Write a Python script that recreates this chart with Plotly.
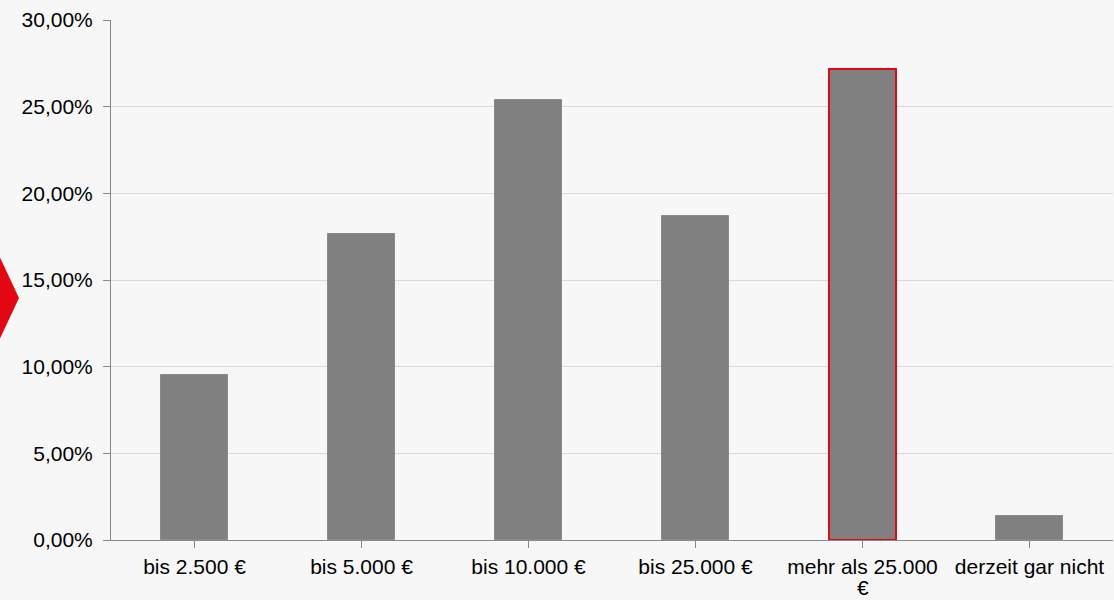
import plotly.graph_objects as go

# Anteile je Kategorie (in Prozent)
categories = ["bis 2.500 €", "bis 5.000 €", "bis 10.000 €", "bis 25.000 €",
              "mehr als 25.000 €", "derzeit gar nicht"]
shares = [9.52, 17.65, 25.39, 18.69, 27.18, 1.38]

y_tick_values = [0, 5, 10, 15, 20, 25, 30]
y_tick_labels = ["0,00%", "5,00%", "10,00%", "15,00%", "20,00%", "25,00%", "30,00%"]

highlight_index = 4
wrapped_index = 4  # this label does not fit its slot: last word moves to a second line

BAR_GRAY = "#808080"
EDGE_GRAY = "#8a8a8a"
RED = "#e30613"
BG = "#f7f7f7"
FONT = "Liberation Sans, Arial, sans-serif"

edge_colors = [RED if i == highlight_index else EDGE_GRAY for i in range(len(shares))]
edge_widths = [2 if i == highlight_index else 1 for i in range(len(shares))]

# second lines are drawn as annotations so the line spacing stays tight
first_lines, second_lines = [], []
for i, label in enumerate(categories):
    if i == wrapped_index:
        head, tail = label.rsplit(" ", 1)
        first_lines.append(head)
        second_lines.append(tail)
    else:
        first_lines.append(label)
        second_lines.append("")

fig = go.Figure(
    go.Bar(
        x=list(range(len(categories))),
        y=shares,
        width=0.4,
        marker=dict(color=BAR_GRAY, line=dict(color=edge_colors, width=edge_widths)),
        hoverinfo="skip",
    )
)

# plot area geometry in pixels
W, H = 1114, 600
L, R, T, B = 111, 1, 20, 60
pw, ph = W - L - R, H - T - B


def px_to_paper(x, y):
    return (x - L) / pw, (H - B - y) / ph


# decorative red marker at the left edge
pts = [px_to_paper(-20, 215), px_to_paper(19, 298), px_to_paper(-20, 381)]
path = "M {} {} L {} {} L {} {} Z".format(pts[0][0], pts[0][1], pts[1][0], pts[1][1], pts[2][0], pts[2][1])

annotations = []
for i, text in enumerate(second_lines):
    if text:
        annotations.append(dict(
            x=i, xref="x", y=px_to_paper(0, 600)[1], yref="paper",
            text=text, showarrow=False, xanchor="center", yanchor="bottom",
            borderpad=0,
            font=dict(family=FONT, size=21, color="#000000"),
        ))

fig.update_layout(
    width=W,
    height=H,
    margin=dict(l=L, r=R, t=T, b=B, pad=0),
    paper_bgcolor=BG,
    plot_bgcolor=BG,
    showlegend=False,
    bargap=0,
    font=dict(family=FONT, size=21, color="#000000"),
    shapes=[
        dict(type="path", path=path, xref="paper", yref="paper",
             fillcolor=RED, line=dict(width=0), layer="above"),
    ],
    annotations=annotations,
    xaxis=dict(
        range=[-0.5, len(categories) - 0.5],
        tickmode="array",
        tickvals=list(range(len(categories))),
        ticktext=first_lines,
        tickson="boundaries",
        ticks="outside",
        ticklen=7,
        tickcolor="#888888",
        showline=True,
        linecolor="#888888",
        linewidth=1,
        showgrid=False,
        zeroline=False,
        tickfont=dict(size=21),
        ticklabelstandoff=1,
        automargin=False,
        fixedrange=True,
    ),
    yaxis=dict(
        range=[0, 30],
        tickmode="array",
        tickvals=y_tick_values,
        ticktext=y_tick_labels,
        ticks="outside",
        ticklen=7,
        tickcolor="#888888",
        showline=True,
        linecolor="#888888",
        linewidth=1,
        showgrid=True,
        gridcolor="#d9d9d9",
        gridwidth=1,
        zeroline=False,
        tickfont=dict(size=21),
        ticklabelstandoff=6,
        automargin=False,
        fixedrange=True,
    ),
)

fig.write_html("out.html", config={"displayModeBar": False})
